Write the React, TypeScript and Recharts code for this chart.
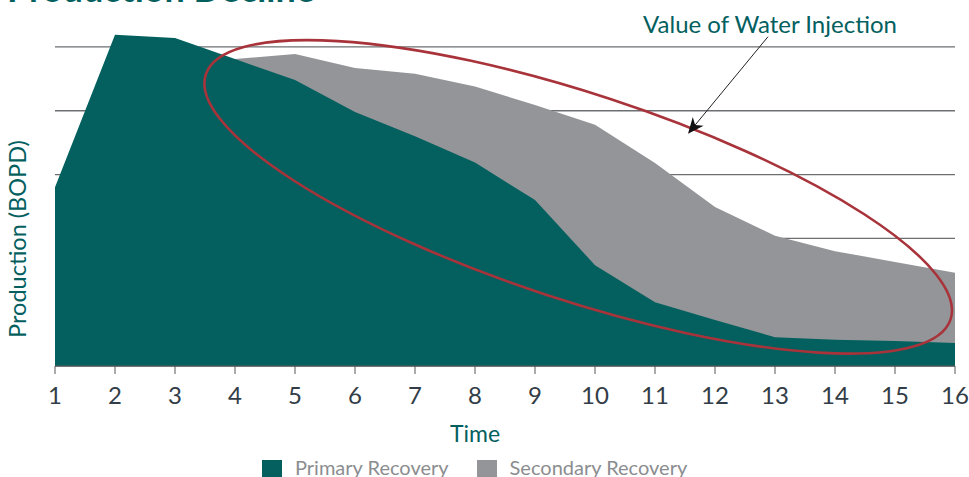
import { Area, AreaChart, CartesianGrid, ReferenceDot, XAxis, YAxis } from "recharts";

const TEAL = "#03605f";
const GREY = "#939598";
const RED = "#a8333a";
const FONT = "Lato, 'Open Sans', sans-serif";

// time steps on the x axis
const TIME = [1, 2, 3, 4, 5, 6, 7, 8, 9, 10, 11, 12, 13, 14, 15, 16];
// primary recovery (natural decline)
const PRIMARY = [2.8, 5.19, 5.14, 4.81, 4.48, 3.98, 3.6, 3.19, 2.6, 1.58, 1.0, 0.72, 0.45, 0.41, 0.39, 0.36];
// total with water injection (primary + secondary), starts at t=4
const WITH_INJECTION = [null, null, null, 4.81, 4.89, 4.67, 4.58, 4.38, 4.09, 3.78, 3.18, 2.49, 2.04, 1.8, 1.63, 1.46];
const Y_TICKS = [0, 1, 2, 3, 4, 5];
const Y_MAX = 5.5;

// annotation anchors, in data units
const ELLIPSE_AT = { x: 9.72, y: 2.65 };
const ARROW_TIP = { x: 11.55, y: 3.64 };

const data = TIME.map((t, i) => ({ t, primary: PRIMARY[i], total: WITH_INJECTION[i] }));

function Ellipse(p: any) {
  const { cx, cy } = p;
  return (
    <ellipse
      cx={cx}
      cy={cy}
      rx={392}
      ry={103}
      fill="none"
      stroke={RED}
      strokeWidth={2.6}
      transform={`rotate(18.2 ${cx} ${cy})`}
    />
  );
}

function Arrow(p: any) {
  const { cx, cy } = p;
  const tx = cx + 80;
  const ty = cy - 97;
  const ang = Math.atan2(cy - ty, cx - tx);
  const L = 16;
  const W = 7;
  const bx = cx - L * Math.cos(ang);
  const by = cy - L * Math.sin(ang);
  const nx = -Math.sin(ang);
  const ny = Math.cos(ang);
  const mx = cx - L * 0.7 * Math.cos(ang);
  const my = cy - L * 0.7 * Math.sin(ang);
  return (
    <g>
      <line x1={tx} y1={ty} x2={mx} y2={my} stroke="#222" strokeWidth={1} />
      <polygon
        points={`${cx},${cy} ${bx + nx * W},${by + ny * W} ${mx},${my} ${bx - nx * W},${by - ny * W}`}
        fill="#111"
      />
      <text x={cx + 82} y={cy - 101} textAnchor="middle" fill={TEAL} fontSize={24} fontFamily={FONT}>
        Value of Water Injection
      </text>
    </g>
  );
}

function TimeLabel({ viewBox }: any) {
  const { x, y, width } = viewBox;
  return (
    <text x={x + width / 2 - 30} y={y + 76} textAnchor="middle" fill={TEAL} fontSize={23} fontFamily={FONT}>
      Time
    </text>
  );
}

function ProdLabel({ viewBox }: any) {
  const { x, y } = viewBox;
  const px = x + 26;
  const py = y + 224;
  return (
    <text
      x={px}
      y={py}
      transform={`rotate(-90 ${px} ${py})`}
      textAnchor="middle"
      fill={TEAL}
      fontSize={23.5}
      fontFamily={FONT}
    >
      Production (BOPD)
    </text>
  );
}

function LegendItem({ color, label }: { color: string; label: string }) {
  return (
    <div style={{ display: "flex", alignItems: "flex-start", gap: 13 }}>
      <div style={{ width: 20, height: 20, background: color }} />
      <span style={{ color: "#8b8d90", fontSize: 20, lineHeight: "20px", marginTop: -3 }}>{label}</span>
    </div>
  );
}

export default function App() {
  return (
    <div style={{ position: "absolute", left: 0, top: 0, width: 969, height: 477, overflow: "hidden", background: "#fff", fontFamily: FONT }}>
      <div style={{ position: "absolute", left: 7, top: -30, fontSize: 36, lineHeight: "36px", fontWeight: 700, color: TEAL, whiteSpace: "nowrap" }}>
        Production Decline
      </div>
      <AreaChart width={969} height={477} data={data} margin={{ top: 15, right: 14, left: 0, bottom: 81 }}>
        <CartesianGrid
          horizontal
          vertical={false}
          stroke="#6d6e71"
          strokeWidth={1.3}
          horizontalCoordinatesGenerator={({ offset }: any) =>
            Y_TICKS.map((v) => offset.top + offset.height * (1 - v / Y_MAX))
          }
        />
        <XAxis
          dataKey="t"
          type="number"
          domain={[1, 16]}
          ticks={TIME}
          height={30}
          stroke="#58595b"
          tickSize={8}
          tickMargin={13}
          tick={{ fill: "#333d47", fontSize: 24, fontFamily: FONT }}
          label={<TimeLabel />}
        />
        <YAxis
          domain={[0, Y_MAX]}
          ticks={Y_TICKS}
          width={55}
          axisLine={false}
          tickLine={false}
          tick={false}
          label={<ProdLabel />}
        />
        <Area type="linear" dataKey="total" stroke="none" fill={GREY} fillOpacity={1} isAnimationActive={false} />
        <Area type="linear" dataKey="primary" stroke="none" fill={TEAL} fillOpacity={1} isAnimationActive={false} />
        <ReferenceDot x={ELLIPSE_AT.x} y={ELLIPSE_AT.y} shape={<Ellipse />} />
        <ReferenceDot x={ARROW_TIP.x} y={ARROW_TIP.y} shape={<Arrow />} />
      </AreaChart>
      <div style={{ position: "absolute", left: 262, top: 460, display: "flex", gap: 28 }}>
        <LegendItem color={TEAL} label="Primary Recovery" />
        <LegendItem color={GREY} label="Secondary Recovery" />
      </div>
    </div>
  );
}
